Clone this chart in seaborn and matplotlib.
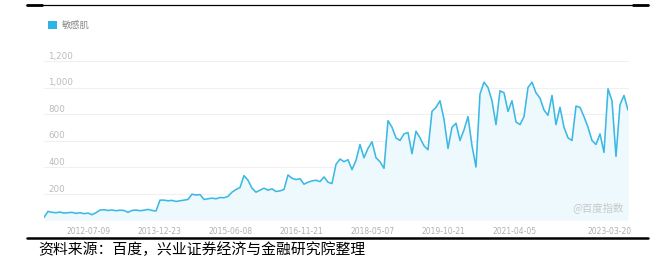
import numpy as np
import pandas as pd
import matplotlib
matplotlib.use("Agg")
import matplotlib.pyplot as plt
import seaborn as sns
from matplotlib.patches import Rectangle
from matplotlib.lines import Line2D

# ---------------- data ----------------
series_name = "敏感肌"
start_date = "2011-08-08"
step_days = 30
values = [
    20, 65, 58, 55, 60, 52, 55, 58, 50, 55, 48, 52, 40, 55, 75, 78, 72, 76, 70, 74,
    72, 58, 72, 75, 70, 74, 80, 72, 68, 150, 150, 145, 148, 140, 145, 150, 155, 195, 188, 192,
    155, 160, 165, 160, 170, 168, 178, 210, 230, 245, 335, 300, 240, 210, 225, 240, 225, 235, 215, 220,
    230, 340, 315, 305, 312, 270, 285, 295, 300, 290, 325, 285, 275, 420, 460, 440, 455, 380, 450, 570,
    470, 540, 590, 470, 440, 390, 750, 700, 620, 600, 650, 660, 500, 670, 620, 560, 530, 820, 850, 900,
    760, 540, 700, 730, 600, 680, 780, 560, 400, 950, 1040, 1000, 900, 720, 975, 960, 820, 900, 740, 720,
    780, 1000, 1040, 960, 920, 830, 790, 940, 720, 850, 700, 620, 600, 860, 850, 780, 700, 600, 570, 650,
    510, 990, 900, 480, 870, 940, 830,
]
tick_dates = ["2012-07-09", "2013-12-23", "2015-06-08", "2016-11-21",
              "2018-05-07", "2019-10-21", "2021-04-05", "2023-03-20"]
y_ticks = [200, 400, 600, 800, 1000, 1200]
y_tick_labels = ["200", "400", "600", "800", "1,000", "1,200"]
source_text = "资料来源：百度，兴业证券经济与金融研究院整理"
watermark = "@百度指数"

dates = pd.date_range(start_date, periods=len(values), freq=f"{step_days}D")
df = pd.DataFrame({"date": dates, "value": values})

# ---------------- style ----------------
sns.set_style("white")
plt.rcParams["font.family"] = ["Noto Sans CJK SC", "DejaVu Sans"]

W, H = 655, 261
fig = plt.figure(figsize=(W / 100, H / 100), dpi=100)

def fx(x):
    return x / W

def fy(y):
    return 1 - y / H

ax = fig.add_axes([fx(44), fy(220), (628 - 44) / W, (220 - 61) / H])

ax.fill_between(df["date"], df["value"], 0, color="#eef9fd", lw=0, zorder=1)
sns.lineplot(data=df, x="date", y="value", ax=ax, color="#3bb9e4", lw=1.15, zorder=3)

ax.set_xlim(dates[0], dates[-1])
ax.set_ylim(0, 1200)
for s in ax.spines.values():
    s.set_visible(False)
ax.grid(axis="y", color="#f0f0f0", lw=0.8)
ax.grid(axis="x", visible=False)
ax.set_axisbelow(True)
for gl in ax.yaxis.get_gridlines():
    gl.set_clip_on(False)

ax.set_xticks(pd.to_datetime(tick_dates))
ax.set_xticklabels(tick_dates, fontfamily="DejaVu Sans")
ax.tick_params(axis="x", length=0, pad=5, labelsize=5.5, labelcolor="#b0b0b0")

ax.set_yticks(y_ticks)
ax.set_yticklabels(y_tick_labels, ha="left", va="bottom", fontfamily="DejaVu Sans")
ax.tick_params(axis="y", length=0, pad=-3, labelsize=6.3, labelcolor="#bbbbbb")
ax.set_xlabel("")
ax.set_ylabel("")

# legend
fig.add_artist(Rectangle((fx(48), fy(29)), 9 / W, 8 / H, transform=fig.transFigure,
                         color="#2eb3e6", lw=0))
fig.text(fx(62), fy(25), series_name, va="center", ha="left", fontsize=6.7, color="#888888")

# watermark
fig.text(fx(598), fy(208), watermark, ha="center", va="center", fontsize=7.5, color="#c8c8c8")

# rules
fig.add_artist(Line2D([fx(27), fx(648)], [fy(5), fy(5)], color="black", lw=0.9,
                      transform=fig.transFigure))
fig.add_artist(Line2D([fx(27), fx(42)], [fy(5), fy(5)], color="black", lw=2.0,
                      transform=fig.transFigure))
fig.add_artist(Line2D([fx(633), fx(648)], [fy(5), fy(5)], color="black", lw=2.0,
                      transform=fig.transFigure))
fig.add_artist(Line2D([fx(27), fx(648)], [fy(238), fy(238)], color="black", lw=1.8,
                      transform=fig.transFigure))

# source
fig.text(fx(38), fy(250), source_text, va="center", ha="left", fontsize=10.7, color="black")

fig.savefig("out.png", dpi=100)
